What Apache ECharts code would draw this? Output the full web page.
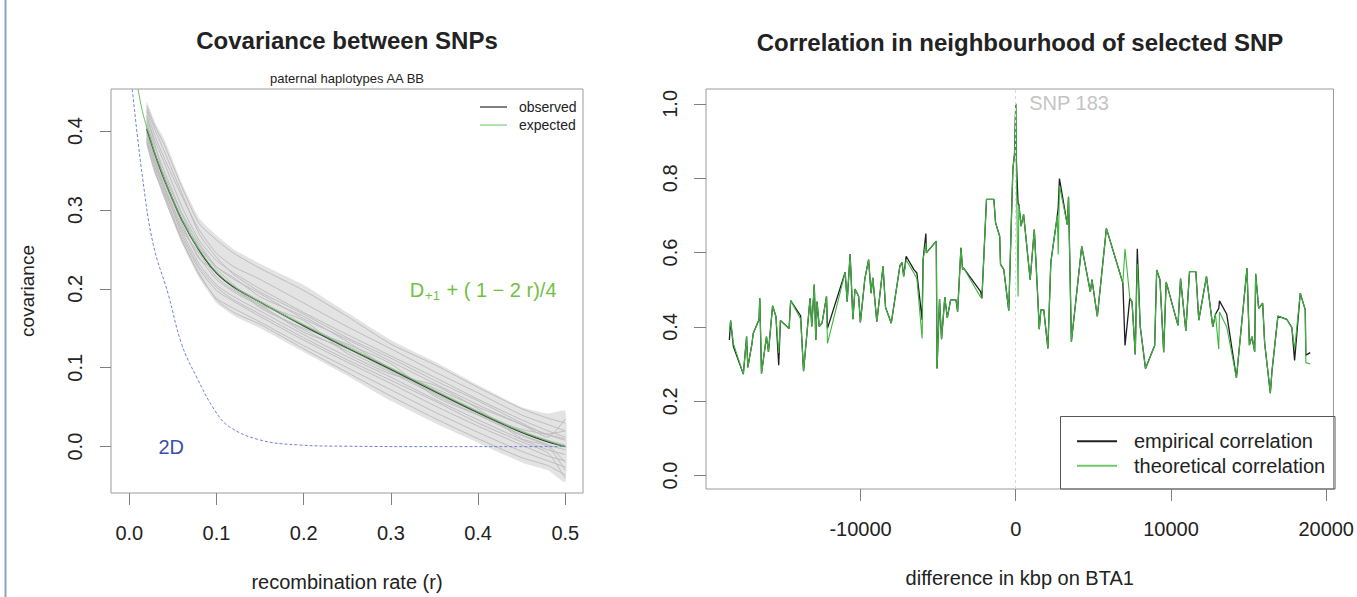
<!DOCTYPE html>
<html><head><meta charset="utf-8">
<script src="https://cdn.jsdelivr.net/npm/echarts@6/dist/echarts.min.js"></script>
<style>html,body{margin:0;padding:0;background:#fff}#c{width:1357px;height:597px}</style>
</head><body><div id="c"></div>
<script>
const FONT = '"Liberation Sans", Arial, Helvetica, sans-serif';

// ---------- Left panel: covariance between SNPs ----------
const leftXTicks = [0, 0.1, 0.2, 0.3, 0.4, 0.5];
const leftYTicks = [0, 0.1, 0.2, 0.3, 0.4];
const obsR = [0.02,0.03,0.04,0.06,0.08,0.10,0.12,0.15,0.20,0.25,0.30,0.35,0.40,0.45,0.48,0.50];
const bandUpper = [.437,.41,.39,.335,.29,.268,.25,.232,.205,.17,.135,.108,.078,.05,.042,.045];
const bandLower = [.384,.345,.315,.258,.214,.182,.166,.15,.12,.09,.058,.03,.005,-.02,-.03,-.045];
const observedRuns = [
  [.432,.405,.383,.330,.283,.262,.245,.226,.198,.165,.130,.104,.075,.048,.036,.030],
  [.425,.392,.366,.318,.275,.245,.228,.212,.182,.152,.124,.095,.068,.040,.028,.020],
  [.418,.386,.360,.305,.262,.236,.220,.200,.170,.142,.115,.088,.060,.034,.020,.012],
  [.410,.378,.350,.297,.258,.228,.212,.194,.162,.136,.108,.080,.053,.028,.015,.008],
  [.402,.368,.338,.288,.248,.220,.203,.185,.155,.128,.100,.072,.045,.020,.008,.002],
  [.398,.362,.330,.280,.240,.212,.196,.178,.148,.121,.094,.066,.040,.014,.002,-.004],
  [.392,.357,.325,.274,.232,.205,.190,.172,.142,.114,.088,.060,.034,.009,-.004,-.010],
  [.388,.352,.320,.266,.225,.198,.184,.165,.135,.107,.080,.052,.026,.002,-.012,-.018],
  [.386,.348,.316,.262,.218,.188,.175,.158,.128,.100,.072,.044,.018,-.006,-.018,-.026],
  [.384,.345,.322,.262,.220,.186,.170,.155,.124,.094,.064,.036,.010,-.014,-.024,-.036],
  [.415,.370,.345,.295,.252,.228,.214,.190,.165,.133,.098,.074,.050,.028,.012,.035],
  [.400,.360,.330,.276,.245,.215,.198,.180,.160,.118,.092,.078,.048,.010,.000,-.030],
  [.420,.380,.342,.290,.255,.225,.205,.176,.150,.130,.105,.064,.040,.022,.015,.010],
  [.395,.365,.335,.284,.238,.222,.200,.180,.145,.124,.096,.068,.042,.015,.002,-.020],
  [.428,.400,.375,.322,.270,.240,.218,.196,.168,.138,.112,.084,.058,.030,.016,.020],
  [.390,.354,.328,.270,.228,.202,.186,.168,.138,.110,.084,.058,.030,.006,-.008,-.040]
];
const observedMean = [.403,.369,.339,.288,.249,.220,.202,.183,.153,.125,.098,.070,.043,.018,.006,.000];
const expR = [0.01,0.015,0.02,0.03,0.04,0.05,0.06,0.07,0.08,0.10,0.12,0.14,0.17,0.20,0.25,0.30,0.35,0.40,0.45,0.50];
const expectedCov = [.453,.425,.405,.370,.340,.313,.289,.268,.250,.221,.203,.189,.171,.154,.126,.099,.071,.044,.019,.000];
const twoDR = [0.0034,0.0153,0.0275,0.0447,0.060,0.0772,0.098,0.115,0.150,0.196,0.25,0.35,0.45,0.50];
const twoDCov = [.453,.340,.256,.193,.130,.088,.046,.025,.0084,.002,.0005,0,0,0];

// ---------- Right panel: correlation around SNP 183 ----------
const rightXTicks = [-10000, 0, 10000, 20000];
const rightYTicks = [0, 0.2, 0.4, 0.6, 0.8, 1.0];
const kbpDiff = [-18450,-18370,-18190,-17550,-17340,-17260,-16990,-16910,-16540,-16490,-16380,-16060,-15930,-15665,-15450,-15270,-15160,-14600,-14500,-13860,-13670,-13250,-13140,-12980,-12880,-12800,-12660,-12480,-12190,-12130,-10990,-10860,-10670,-10490,-10355,-10120,-10010,-9720,-9480,-9320,-9210,-8950,-8870,-8550,-8390,-8020,-7460,-7330,-7220,-7060,-6560,-6370,-6030,-5970,-5790,-5760,-5120,-5070,-4910,-4780,-4570,-4410,-4195,-3850,-3745,-3530,-3425,-3370,-2260,-2180,-1885,-1410,-1300,-1035,-980,-770,-450,-186,-80,0,30,150,200,345,505,930,1195,1405,1515,1620,1805,2070,2260,2680,2735,2815,3320,3400,3585,4250,4805,4910,5255,5840,6900,7040,7350,7490,7700,7830,8020,8360,8950,9080,9290,9530,9690,10450,10617,10958,11196,11601,11793,12288,12693,12867,13079,13124,13594,14217,14898,15052,15219,15393,15457,15650,15907,16036,16402,16505,16890,17468,17790,17964,18330,18651,18690,18973];
const empiricalCor = [.365,.417,.347,.273,.374,.291,.356,.383,.419,.477,
 .275,.374,.333,.457,.428,.297,.417,.396,.471,.430,
 .281,.477,.401,.514,.365,.468,.401,.410,.482,.396,
 .547,.468,.596,.421,.502,.482,.412,.530,.581,.491,
 .532,.414,.443,.563,.453,.410,.565,.574,.536,.590,
 .554,.545,.419,.581,.651,.599,.631,.288,.475,.367,
 .480,.424,.473,.473,.441,.613,.554,.559,.495,.477,
 .743,.743,.680,.644,.568,.554,.444,.824,.865,1.0,
 .860,.730,.730,.671,.703,.527,.662,.491,.394,.446,
 .446,.342,.574,.700,.720,.799,.675,.750,.360,.617,
 .494,.527,.428,.665,.518,.350,.477,.468,.326,.610,
 .401,.288,.350,.553,.527,.332,.521,
 .404,.530,.390,.549,.549,.418,.536,.400,.434,.450,.470,.434,.263,.558,.351,.374,.333,.543,.450,.464,.356,.222,.280,.429,.420,.398,.310,.491,.446,.324,.331];
const theoreticalCor = [.390,.417,.355,.273,.374,.291,.356,.383,.419,.477,
 .275,.374,.333,.457,.428,.330,.417,.396,.471,.421,
 .281,.477,.401,.514,.365,.468,.401,.410,.482,.356,
 .547,.468,.596,.421,.502,.482,.412,.530,.581,.491,
 .532,.414,.443,.563,.453,.410,.565,.574,.536,.580,
 .545,.530,.369,.581,.626,.599,.631,.288,.475,.367,
 .480,.424,.473,.473,.441,.613,.554,.559,.480,.477,
 .743,.743,.680,.644,.568,.554,.444,.824,.865,1.0,
 .860,.482,.730,.671,.703,.527,.662,.491,.394,.446,
 .446,.342,.574,.700,.595,.780,.675,.750,.360,.617,
 .494,.527,.428,.665,.518,.610,.477,.468,.326,.570,
 .401,.288,.350,.553,.527,.332,.521,
 .404,.530,.390,.549,.549,.418,.536,.400,.434,.340,.440,.400,.263,.558,.351,.374,.333,.543,.450,.464,.356,.222,.280,.429,.420,.398,.340,.491,.446,.304,.300];

// ---------- helpers ----------
const zip = (xs, ys) => xs.map((x, i) => [x, ys[i]]);
const BOX = '#9b9b9b', TICK = '#808080', TXT = '#222';

function valueAxis(gi, min, max, ticks, fmt, extra) {
  return Object.assign({
    gridIndex: gi, type: 'value', min: min, max: max,
    axisLine: {show: false, onZero: false}, splitLine: {show: false},
    axisTick: {show: true, inside: false, length: 12, customValues: ticks, lineStyle: {color: TICK, width: 1}},
    axisLabel: {customValues: ticks, formatter: fmt, fontSize: 20, color: TXT, fontFamily: FONT, margin: 30}
  }, extra || {});
}

const series = [];
// band of observed runs
series.push({
  type: 'custom', xAxisIndex: 0, yAxisIndex: 0, silent: true, z: 1,
  data: [[0.25, 0.2]],
  renderItem: (params, api) => {
    const pts = [];
    for (let i = 0; i < obsR.length; i++) pts.push(api.coord([obsR[i], bandUpper[i]]));
    for (let i = obsR.length - 1; i >= 0; i--) pts.push(api.coord([obsR[i], bandLower[i]]));
    return {type: 'polygon', shape: {points: pts, smooth: 0.15}, style: {fill: 'rgba(200,200,200,0.5)'}};
  }
});
observedRuns.forEach((run, k) => series.push({
  name: 'run' + k, type: 'line', xAxisIndex: 0, yAxisIndex: 0, data: zip(obsR, run),
  showSymbol: false, silent: true, z: 2, smooth: 0.2,
  lineStyle: {color: '#bdbdbd', width: 1}
}));
series.push({
  name: 'observed', type: 'line', xAxisIndex: 0, yAxisIndex: 0, data: zip(obsR, observedMean),
  showSymbol: false, silent: true, z: 3, smooth: 0.3, lineStyle: {color: '#3a3a3a', width: 1.3}
});
series.push({
  name: 'expected', type: 'line', xAxisIndex: 0, yAxisIndex: 0, data: zip(expR, expectedCov),
  showSymbol: false, silent: true, z: 4, smooth: 0.3, lineStyle: {color: '#5fc05f', width: 1}
});
series.push({
  name: '2D', type: 'line', xAxisIndex: 0, yAxisIndex: 0, data: zip(twoDR, twoDCov),
  showSymbol: false, silent: true, z: 4, smooth: 0.4,
  lineStyle: {color: '#6f82d4', width: 1, type: [3, 2]}
});
series.push({
  name: 'empirical correlation', type: 'line', xAxisIndex: 1, yAxisIndex: 1, data: zip(kbpDiff, empiricalCor),
  showSymbol: false, silent: true, z: 3, lineStyle: {color: '#1e1e1e', width: 1.3},
  markLine: {silent: true, symbol: 'none', label: {show: false},
    lineStyle: {color: '#d9d9d9', type: [3, 3], width: 1}, data: [{xAxis: 0}]}
});
series.push({
  name: 'theoretical correlation', type: 'line', xAxisIndex: 1, yAxisIndex: 1, data: zip(kbpDiff, theoreticalCor),
  showSymbol: false, silent: true, z: 4, lineStyle: {color: '#3db53d', width: 1.1}
});

const option = {
  animation: false,
  textStyle: {fontFamily: FONT},
  title: [
    {text: 'Covariance between SNPs', left: 347, top: 28, textAlign: 'center', padding: 0,
     textStyle: {fontSize: 24, fontWeight: 'bold', color: TXT, fontFamily: FONT}},
    {text: 'Correlation in neighbourhood of selected SNP', left: 1020, top: 30, textAlign: 'center', padding: 0,
     textStyle: {fontSize: 24, fontWeight: 'bold', color: TXT, fontFamily: FONT}}
  ],
  grid: [
    {left: 111, top: 89, width: 472, height: 409, show: true, borderColor: BOX, borderWidth: 1, backgroundColor: 'transparent'},
    {left: 706, top: 89, width: 629, height: 400, show: true, borderColor: BOX, borderWidth: 1, backgroundColor: 'transparent'}
  ],
  xAxis: [
    valueAxis(0, -0.021, 0.5203, leftXTicks, v => v.toFixed(1), {
      name: 'recombination rate (r)', nameLocation: 'middle', nameGap: 79,
      nameTextStyle: {fontSize: 20, color: TXT, fontFamily: FONT}}),
    valueAxis(1, -19955, 20470, rightXTicks, v => String(v), {
      name: 'difference in kbp on BTA1', nameLocation: 'middle', nameGap: 79,
      nameTextStyle: {fontSize: 20, color: TXT, fontFamily: FONT}})
  ],
  yAxis: [
    (function () { const a = valueAxis(0, -0.0588, 0.4534, leftYTicks, v => v.toFixed(1), {
      name: 'covariance', nameLocation: 'middle', nameGap: 74,
      nameTextStyle: {fontSize: 19, color: TXT, fontFamily: FONT}});
      a.axisLabel.rotate = 90; a.axisLabel.margin = 26; a.axisTick.length = 11; return a; })(),
    (function () { const a = valueAxis(1, -0.036, 1.04, rightYTicks, v => v.toFixed(1));
      a.axisLabel.rotate = 90; a.axisLabel.margin = 26; return a; })()
  ],
  legend: [
    {left: 480, top: 98, orient: 'vertical', itemGap: 0, itemWidth: 27, itemHeight: 1.5, icon: 'rect',
     padding: 0, selectedMode: false,
     textStyle: {fontSize: 14, lineHeight: 18, color: TXT, fontFamily: FONT, padding: [0, 0, 0, 7]},
     data: [{name: 'observed', itemStyle: {color: '#555555'}}, {name: 'expected', itemStyle: {color: '#9ad89a'}}]},
    {left: 1077, top: 429, orient: 'vertical', itemGap: 0, itemWidth: 40, itemHeight: 2, icon: 'rect',
     padding: 0, selectedMode: false,
     textStyle: {fontSize: 20, lineHeight: 24.5, color: TXT, fontFamily: FONT, padding: [0, 0, 0, 12]},
     data: [{name: 'empirical correlation', itemStyle: {color: '#222222'}},
            {name: 'theoretical correlation', itemStyle: {color: '#6cc86c'}}]}
  ],
  series: series
};

const chart = echarts.init(document.getElementById('c'), null, {renderer: 'svg'});
chart.setOption(option);

const pD = chart.convertToPixel({gridIndex: 0}, [0.3215, 0.199]);
const p2D = chart.convertToPixel({gridIndex: 0}, [0.048, -0.001]);
const pSNP = chart.convertToPixel({gridIndex: 1}, [868, 1.003]);

chart.setOption({
  graphic: [
    {type: 'line', shape: {x1: 5.5, y1: 0, x2: 5.5, y2: 597}, style: {stroke: '#8ca3c2', lineWidth: 2}, silent: true},
    {type: 'text', x: 347, y: 78, silent: true,
     style: {text: 'paternal haplotypes AA BB', fill: TXT, font: '13px ' + FONT, textAlign: 'center', textVerticalAlign: 'middle'}},
    {type: 'rect', shape: {x: 1060.5, y: 416.5, width: 274.5, height: 72.5}, z: 0, silent: true,
     style: {fill: 'none', stroke: '#555', lineWidth: 1}},
    {type: 'text', x: pD[0], y: pD[1], silent: true,
     style: {text: '{a|D}{b|+1}{a| + ( 1 \u2212 2 r)/4}', textAlign: 'left', textVerticalAlign: 'middle',
       rich: {a: {fill: '#72bf44', fontSize: 20, lineHeight: 25, fontFamily: FONT},
              b: {fill: '#72bf44', fontSize: 13, lineHeight: 13, padding: [12, 1, 0, 1], fontFamily: FONT}}}},
    {type: 'text', x: p2D[0], y: p2D[1], silent: true,
     style: {text: '2D', fill: '#3b4fa8', font: '20px ' + FONT, textAlign: 'center', textVerticalAlign: 'middle'}},
    {type: 'text', x: pSNP[0], y: pSNP[1], silent: true,
     style: {text: 'SNP 183', fill: '#c4c4c4', font: '20px ' + FONT, textAlign: 'left', textVerticalAlign: 'middle'}}
  ]
});
</script></body></html>
